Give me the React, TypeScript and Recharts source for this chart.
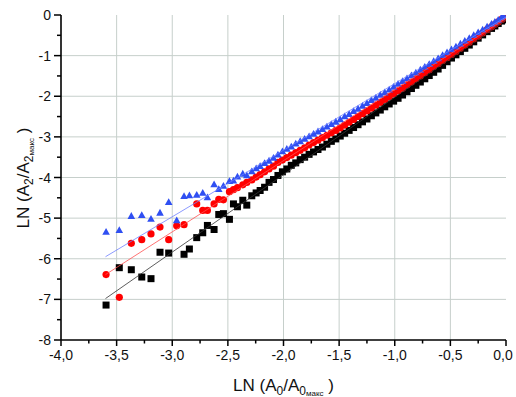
import React from 'react';
import { ScatterChart, Scatter, XAxis, YAxis, CartesianGrid } from 'recharts';

const FONT = '"Liberation Sans", Arial, sans-serif';
const W = 516;
const H = 397;

// Sparse region: shared x values (ln A0/A0max)
const sparseX = [-3.595, -3.476, -3.368, -3.274, -3.191, -3.110, -3.032, -2.960, -2.894, -2.846, -2.780, -2.726, -2.684, -2.624, -2.582, -2.540, -2.486, -2.450, -2.414, -2.366, -2.330, -2.285, -2.246, -2.210];
const blackSparseY = [-7.14, -6.22, -6.27, -6.45, -6.49, -5.84, -5.86, null, -5.89, -5.76, -5.48, -5.36, -5.18, -5.28, -4.91, -4.89, -5.03, -4.65, -4.72, -4.56, -4.68, -4.45, -4.38, -4.32];
const redSparseY = [-6.39, -6.95, -5.62, -5.53, -5.39, -5.22, -5.53, -5.19, -5.16, null, -4.65, -4.81, -4.81, -4.65, -4.54, -4.55, -4.35, -4.30, -4.25, -4.18, -4.12, -4.06, -3.99, -3.93];
const blueSparseY = [-5.34, -5.30, -4.95, -4.93, -5.02, -4.87, -4.61, -5.06, -4.46, -4.44, -4.43, -4.38, -4.49, -4.17, -4.29, -4.21, -4.09, -4.08, -3.98, -3.91, -3.95, -3.85, -3.78, -3.72];

// Dense region
const denseX = [-2.17, -2.13, -2.09, -2.05, -2.01, -1.97, -1.93, -1.89, -1.85, -1.81, -1.77, -1.73, -1.69, -1.65, -1.61, -1.57, -1.53, -1.49, -1.45, -1.41, -1.37, -1.33, -1.29, -1.25, -1.21, -1.17, -1.13, -1.09, -1.05, -1.01, -0.97, -0.93, -0.89, -0.85, -0.81, -0.77, -0.73, -0.69, -0.65, -0.61, -0.57, -0.53, -0.49, -0.45, -0.41, -0.37, -0.33, -0.29, -0.25, -0.21, -0.17, -0.13, -0.10, -0.07, -0.04, -0.02];
const blackDenseY = [-4.24, -4.12, -4.05, -3.95, -3.86, -3.79, -3.70, -3.64, -3.56, -3.50, -3.43, -3.37, -3.31, -3.25, -3.18, -3.11, -3.05, -2.98, -2.91, -2.84, -2.77, -2.70, -2.63, -2.56, -2.48, -2.41, -2.34, -2.26, -2.19, -2.12, -2.05, -1.97, -1.89, -1.81, -1.73, -1.65, -1.57, -1.49, -1.41, -1.33, -1.24, -1.15, -1.06, -0.98, -0.90, -0.82, -0.74, -0.66, -0.57, -0.49, -0.41, -0.33, -0.27, -0.21, -0.15, -0.12];
const redDenseY = [-3.86, -3.79, -3.72, -3.63, -3.57, -3.51, -3.45, -3.39, -3.33, -3.27, -3.20, -3.14, -3.08, -3.02, -2.96, -2.90, -2.84, -2.78, -2.71, -2.64, -2.57, -2.50, -2.43, -2.36, -2.29, -2.22, -2.15, -2.08, -2.01, -1.94, -1.87, -1.80, -1.72, -1.65, -1.57, -1.50, -1.42, -1.35, -1.27, -1.20, -1.12, -1.05, -0.97, -0.90, -0.82, -0.74, -0.67, -0.59, -0.52, -0.44, -0.36, -0.29, -0.23, -0.17, -0.11, -0.07];
const blueDenseY = [-3.65, -3.59, -3.52, -3.44, -3.36, -3.30, -3.24, -3.17, -3.11, -3.05, -2.99, -2.93, -2.87, -2.81, -2.75, -2.69, -2.63, -2.57, -2.50, -2.44, -2.37, -2.31, -2.24, -2.17, -2.10, -2.04, -1.97, -1.91, -1.84, -1.77, -1.70, -1.63, -1.56, -1.49, -1.42, -1.35, -1.28, -1.21, -1.14, -1.07, -0.99, -0.92, -0.85, -0.78, -0.71, -0.64, -0.57, -0.50, -0.43, -0.36, -0.29, -0.22, -0.17, -0.12, -0.06, -0.03];

// Linear fit lines (start, end)
const blackFit = [[-3.6, -6.98], [0, -0.12]];
const redFit = [[-3.6, -6.39], [0, -0.08]];
const blueFit = [[-3.6, -5.95], [0, -0.05]];

// Axis ticks
const xDomain = [-4, 0];
const yDomain = [-8, 0];
const xTicks = [-4, -3.75, -3.5, -3.25, -3, -2.75, -2.5, -2.25, -2, -1.75, -1.5, -1.25, -1, -0.75, -0.5, -0.25, 0];
const yTicks = [-8, -7.5, -7, -6.5, -6, -5.5, -5, -4.5, -4, -3.5, -3, -2.5, -2, -1.5, -1, -0.5, 0];
const xGrid = [-3.5, -3, -2.5, -2, -1.5, -1, -0.5];
const yGrid = [-7, -6, -5, -4, -3, -2, -1];

const build = (xs: number[], ys: (number | null)[]) =>
  xs.map((x, i) => ({ x, y: ys[i] })).filter((d) => d.y !== null);

const blackData = [...build(sparseX, blackSparseY), ...build(denseX, blackDenseY)];
const redData = [...build(sparseX, redSparseY), ...build(denseX, redDenseY)];
const blueData = [...build(sparseX, blueSparseY), ...build(denseX, blueDenseY)];
const toPts = (f: number[][]) => f.map(([x, y]) => ({ x, y }));

const BLUE = '#2f4ff2';
const RED = '#ff0000';

const Square = (p: any) => <rect x={p.cx - 3.5} y={p.cy - 3.5} width={7} height={7} fill="#000" />;
const Dot = (p: any) => <circle cx={p.cx} cy={p.cy} r={3.6} fill={RED} />;
const Tri = (p: any) => (
  <polygon points={`${p.cx},${p.cy - 4} ${p.cx - 3.8},${p.cy + 2.8} ${p.cx + 3.8},${p.cy + 2.8}`} fill={BLUE} />
);
const NoShape = () => <g />;

const isMajorX = (v: number) => Math.abs(v * 2 - Math.round(v * 2)) < 1e-6;
const isMajorY = (v: number) => Math.abs(v - Math.round(v)) < 1e-6;

const XTick = (props: any) => {
  const { x, y, payload } = props;
  const v = payload.value;
  const major = isMajorX(v);
  return (
    <g>
      <line x1={x} x2={x} y1={y} y2={y + (major ? 6 : 3.5)} stroke="#000" strokeWidth={1.5} />
      {major && (
        <text x={v === 0 ? x - 3 : x} y={y + 20} textAnchor="middle" fontSize={14} fontFamily={FONT} fill="#111">
          {v.toFixed(1).replace('.', ',')}
        </text>
      )}
    </g>
  );
};

const YTick = (props: any) => {
  const { x, y, payload } = props;
  const v = payload.value;
  const major = isMajorY(v);
  return (
    <g>
      <line x1={x - (major ? 7 : 4)} x2={x} y1={y} y2={y} stroke="#000" strokeWidth={1.5} />
      {major && (
        <text x={x - 10} y={y + 5} textAnchor="end" fontSize={14} fontFamily={FONT} fill="#111">
          {String(Math.round(v))}
        </text>
      )}
    </g>
  );
};

const XLabel = () => (
  <text x={283.5} y={391} textAnchor="middle" fontSize={17} fontFamily={FONT} fill="#111">
    <tspan>LN (A</tspan>
    <tspan fontSize={12} dy={4}>0</tspan>
    <tspan dy={-4}>/A</tspan>
    <tspan fontSize={12} dy={4}>0</tspan>
    <tspan fontSize={8} dy={1}>макс</tspan>
    <tspan dy={-5}> )</tspan>
  </text>
);

const YLabel = () => (
  <text x={29} y={178} textAnchor="middle" fontSize={17} fontFamily={FONT} fill="#111" transform="rotate(-90 29 178)">
    <tspan>LN (A</tspan>
    <tspan fontSize={12} dy={4}>2</tspan>
    <tspan dy={-4}>/A</tspan>
    <tspan fontSize={12} dy={4}>2</tspan>
    <tspan fontSize={8} dy={1}>макс</tspan>
    <tspan dy={-5}> )</tspan>
  </text>
);

const vGen = ({ offset }: any) =>
  xGrid.map((v) => offset.left + ((v - xDomain[0]) / (xDomain[1] - xDomain[0])) * offset.width);
const hGen = ({ offset }: any) =>
  yGrid.map((v) => offset.top + ((yDomain[1] - v) / (yDomain[1] - yDomain[0])) * offset.height);

export default function App() {
  return (
    <div style={{ position: 'absolute', left: 0, top: 0, width: W, height: H, background: '#fff' }}>
      <ScatterChart width={W} height={H} margin={{ top: 15, right: 10, bottom: 0, left: 0 }}>
        <CartesianGrid
          stroke="#c6cfcb"
          strokeWidth={1}
          verticalCoordinatesGenerator={vGen}
          horizontalCoordinatesGenerator={hGen}
        />
        <XAxis
          type="number"
          dataKey="x"
          domain={xDomain}
          ticks={xTicks}
          interval={0}
          allowDataOverflow
          height={57}
          tickSize={0}
          tickMargin={0}
          tickLine={false}
          axisLine={{ stroke: '#000', strokeWidth: 1.6 }}
          tick={<XTick />}
          label={<XLabel />}
        />
        <YAxis
          type="number"
          dataKey="y"
          domain={yDomain}
          ticks={yTicks}
          interval={0}
          allowDataOverflow
          width={61}
          tickSize={0}
          tickMargin={0}
          tickLine={false}
          axisLine={{ stroke: '#000', strokeWidth: 1.6 }}
          tick={<YTick />}
          label={<YLabel />}
        />
        <Scatter data={blackData} shape={Square} isAnimationActive={false} />
        <Scatter data={redData} shape={Dot} isAnimationActive={false} />
        <Scatter data={blueData} shape={Tri} isAnimationActive={false} />
        <Scatter data={toPts(blackFit)} line={{ stroke: '#333', strokeWidth: 0.8 }} lineType="joint" shape={NoShape} isAnimationActive={false} />
        <Scatter data={toPts(redFit)} line={{ stroke: '#ff5050', strokeWidth: 0.8 }} lineType="joint" shape={NoShape} isAnimationActive={false} />
        <Scatter data={toPts(blueFit)} line={{ stroke: '#6f80ff', strokeWidth: 0.8 }} lineType="joint" shape={NoShape} isAnimationActive={false} />
      </ScatterChart>
    </div>
  );
}
